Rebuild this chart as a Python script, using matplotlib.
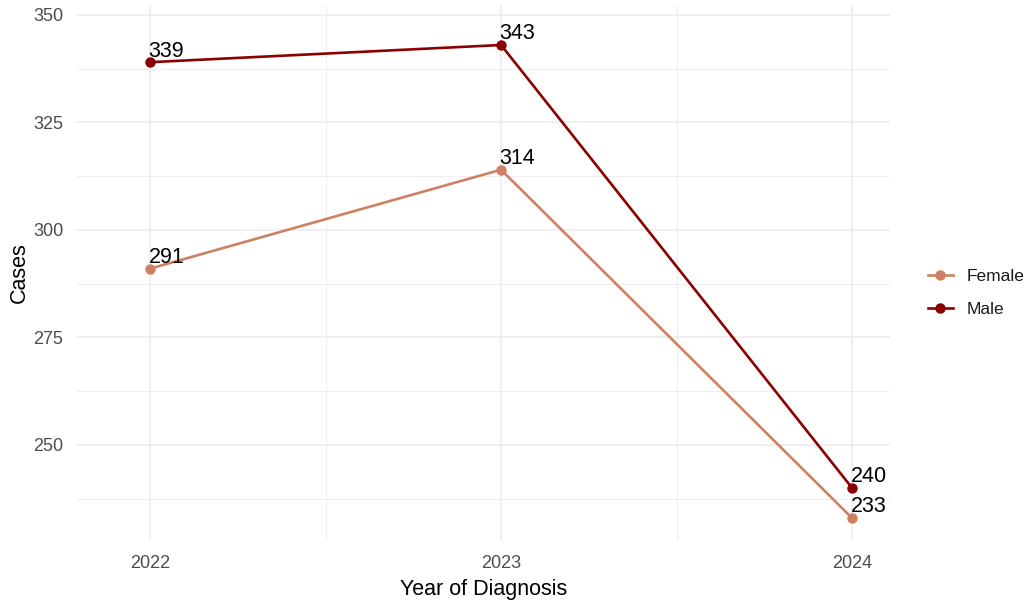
import matplotlib
matplotlib.use("Agg")
import matplotlib.pyplot as plt
from matplotlib.ticker import MultipleLocator

years = [2022, 2023, 2024]
female = [291, 314, 233]
male = [339, 343, 240]
series = [("Female", female, "#CD8162"), ("Male", male, "#8B0000")]

plt.rcParams['font.family'] = ['Liberation Sans', 'DejaVu Sans']

fig = plt.figure(figsize=(10.36, 6.03), dpi=100)
ax = fig.add_axes([77 / 1036, 1 - 540 / 603, (890 - 77) / 1036, (540 - 5) / 603])

for name, vals, col in series:
    ax.plot(years, vals, color=col, lw=1.9, marker='o', ms=6.5, label=name, zorder=3)
    for x, y in zip(years, vals):
        ax.annotate(str(y), (x, y), xytext=(-1, 0.5), textcoords='offset points',
                    ha='left', va='bottom', fontsize=15.5, color='black', zorder=4)

ax.set_xlim(2021.792, 2024.108)
ax.set_ylim(227.9, 352.3)
ax.xaxis.set_major_locator(MultipleLocator(1))
ax.xaxis.set_minor_locator(MultipleLocator(0.5))
ax.yaxis.set_major_locator(MultipleLocator(25))
ax.yaxis.set_minor_locator(MultipleLocator(12.5))
ax.grid(which='major', color='#EBEBEB', lw=1.1)
ax.grid(which='minor', color='#EBEBEB', lw=0.6)
ax.set_axisbelow(True)
for s in ax.spines.values():
    s.set_visible(False)
ax.tick_params(which='both', length=0)
ax.tick_params(axis='both', labelsize=13, labelcolor='#4D4D4D')
ax.tick_params(axis='x', pad=11)
ax.tick_params(axis='y', pad=10)

ax.set_xlabel("Year of Diagnosis", fontsize=15.5, labelpad=5)
ax.set_ylabel("Cases", fontsize=15.5, labelpad=2)

ax.legend(loc='center left', bbox_to_anchor=(1.027, 0.462), frameon=False,
          fontsize=12.5, handlelength=1.45, handletextpad=0.8,
          labelspacing=1.0, labelcolor='#1A1A1A')

fig.savefig("out.png", dpi=100)
